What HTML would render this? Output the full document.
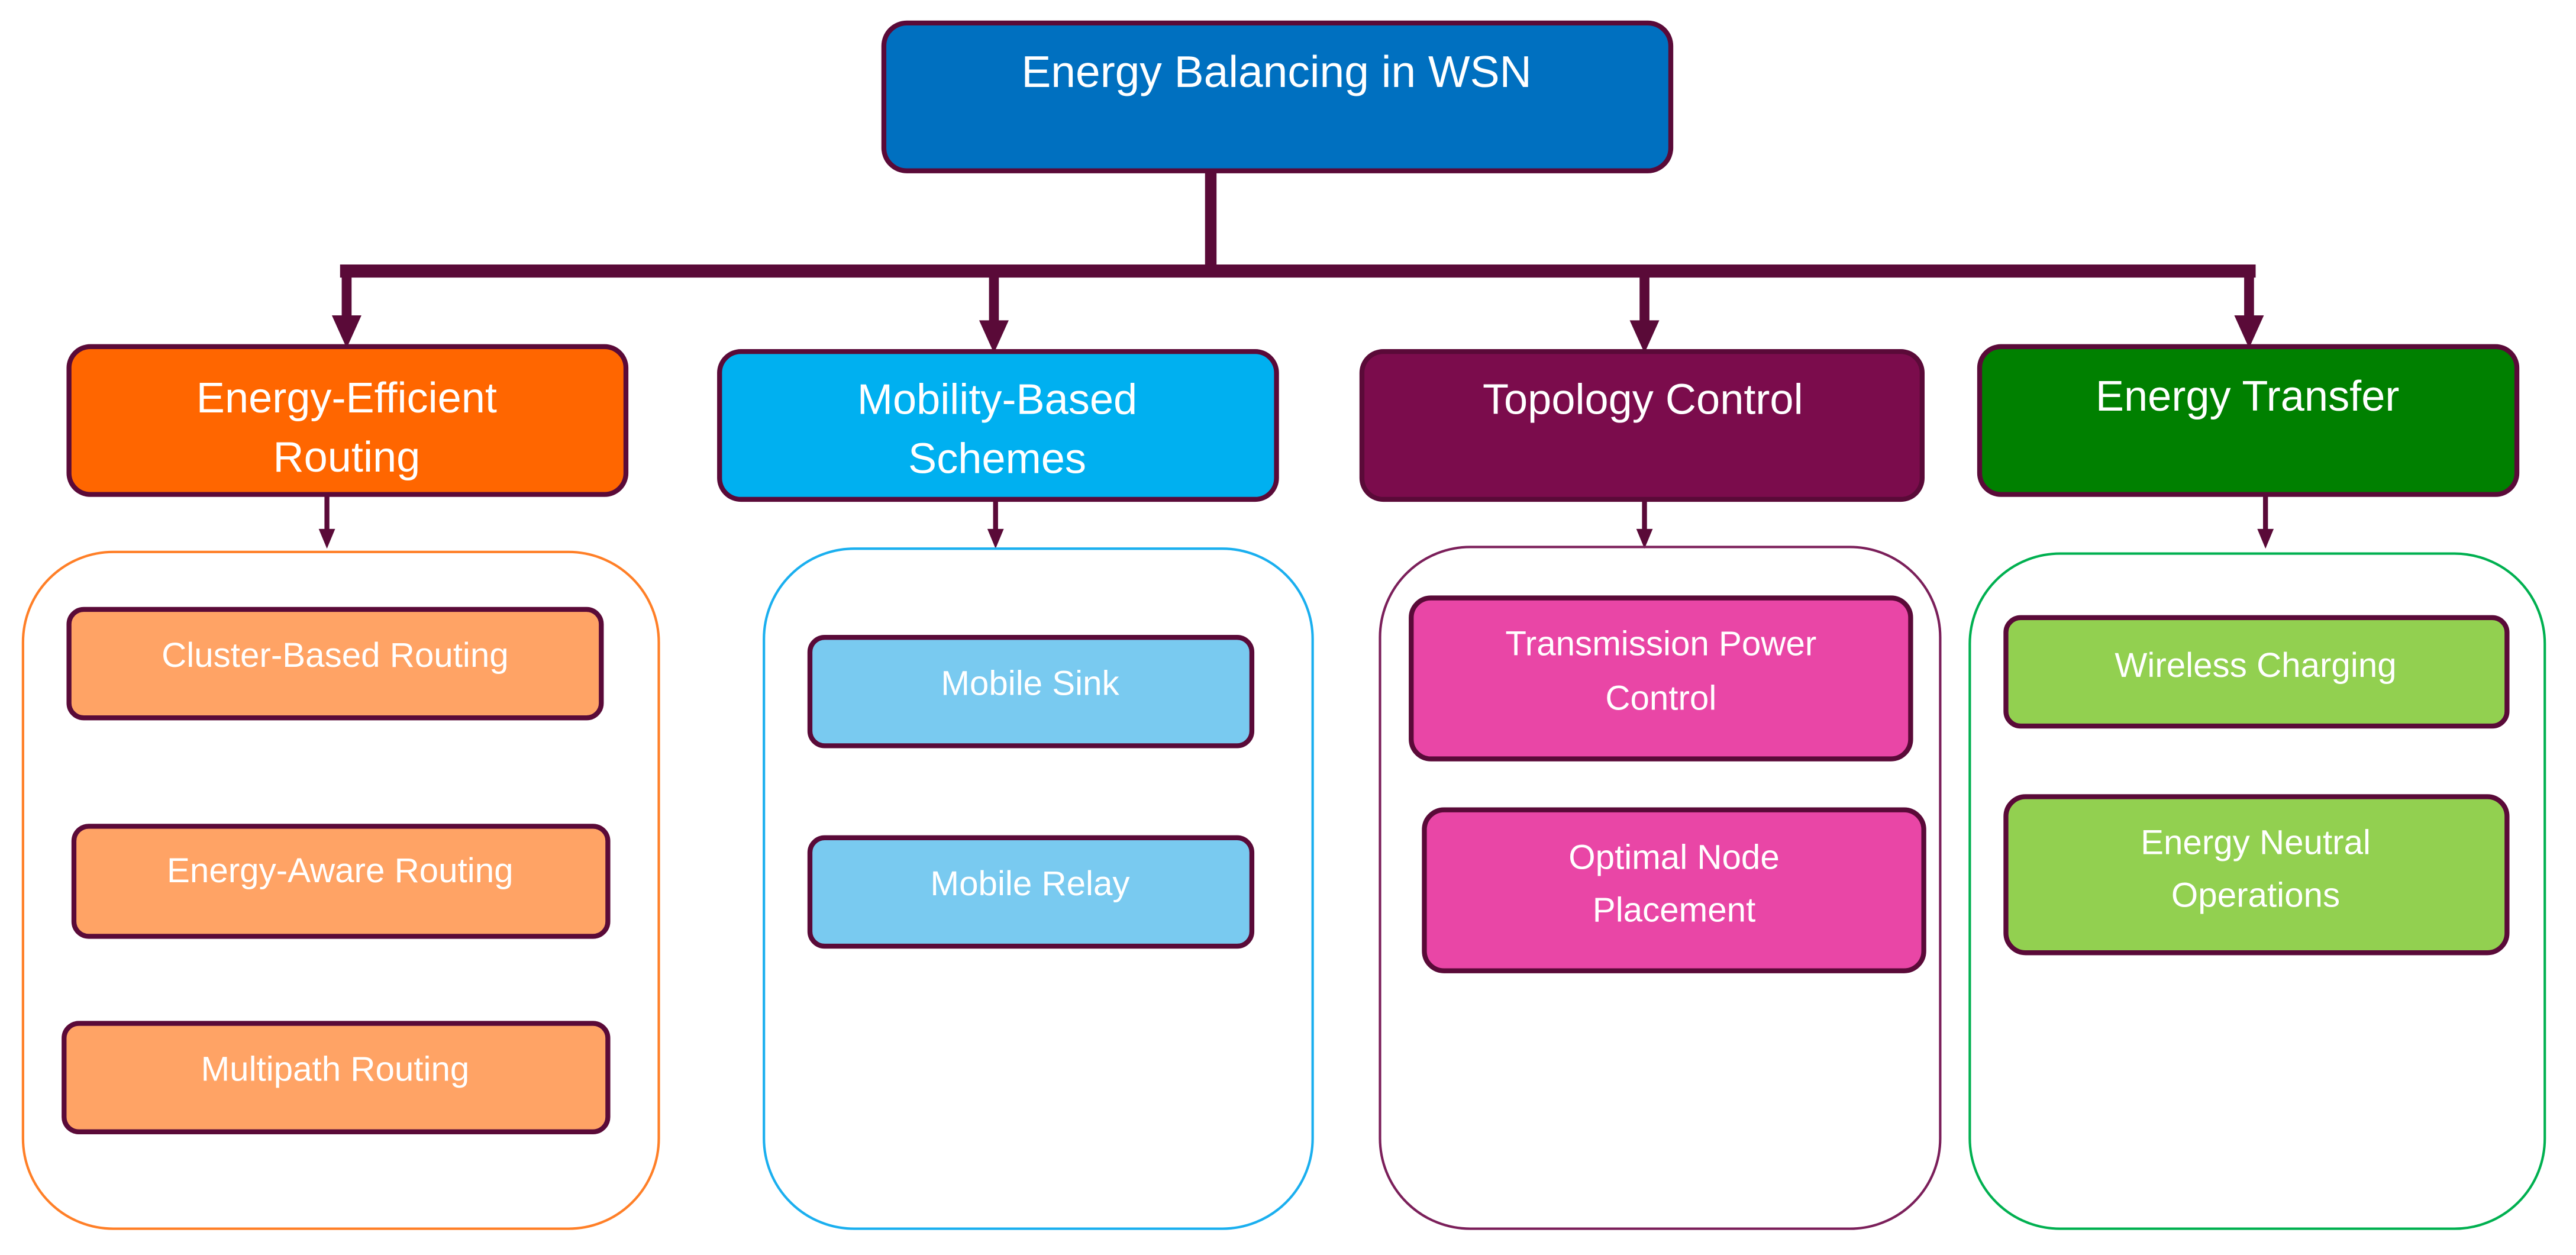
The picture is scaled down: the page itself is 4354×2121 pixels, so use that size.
<!DOCTYPE html>
<html><head><meta charset="utf-8"><style>
html,body{margin:0;padding:0;background:#fff;}
svg{display:block;}
text{font-family:"Liberation Sans",Arial,sans-serif;fill:#fff;text-anchor:middle;}
</style></head><body>
<svg width="4354" height="2121" viewBox="0 0 1568 764" preserveAspectRatio="none" xmlns="http://www.w3.org/2000/svg">
<defs>
<marker id="ab" markerWidth="4" markerHeight="4" refX="2" refY="2" orient="auto" markerUnits="strokeWidth"><path d="M0,0 L4,2 L0,4 z" fill="#5a0a38"/></marker>
</defs>
<!-- top -->
<rect x="538" y="14" width="479" height="90" rx="14" fill="#0070C0" stroke="#5a0a38" stroke-width="3"/>
<text x="777" y="53" font-size="27">Energy Balancing in WSN</text>
<!-- connectors -->
<g stroke="#5a0a38" fill="none">
<line x1="737" y1="104" x2="737" y2="165" stroke-width="7"/>
<line x1="207" y1="165" x2="1373" y2="165" stroke-width="8"/>
<g stroke-width="6">
<line x1="211" y1="165" x2="211" y2="193"/>
<line x1="605" y1="165" x2="605" y2="196"/>
<line x1="1001" y1="165" x2="1001" y2="196"/>
<line x1="1369" y1="165" x2="1369" y2="193"/>
</g>
<g stroke-width="3">
<line x1="199" y1="301" x2="199" y2="324"/>
<line x1="606" y1="304" x2="606" y2="324"/>
<line x1="1001" y1="304" x2="1001" y2="324"/>
<line x1="1379" y1="301" x2="1379" y2="324"/>
</g>
</g>
<g fill="#5a0a38">
<path d="M202,192 L220,192 L211,212 z"/>
<path d="M596,195 L614,195 L605,215 z"/>
<path d="M992,195 L1010,195 L1001,215 z"/>
<path d="M1360,192 L1378,192 L1369,212 z"/>
<path d="M194,322 L204,322 L199,334 z"/>
<path d="M601,322 L611,322 L606,334 z"/>
<path d="M996,322 L1006,322 L1001,334 z"/>
<path d="M1374,322 L1384,322 L1379,334 z"/>
</g>
<!-- level 2 -->
<g stroke="#5a0a38" stroke-width="3">
<rect x="42" y="211" width="339" height="90" rx="13" fill="#FF6600"/>
<rect x="438" y="214" width="339" height="90" rx="13" fill="#00B0F0"/>
<rect x="829" y="214" width="341" height="90" rx="13" fill="#7B0C4C"/>
<rect x="1205" y="211" width="327" height="90" rx="13" fill="#008000"/>
</g>
<g font-size="26">
<text x="211" y="251">Energy-Efficient</text>
<text x="211" y="287">Routing</text>
<text x="607" y="252">Mobility-Based</text>
<text x="607" y="288">Schemes</text>
<text x="1000" y="252">Topology Control</text>
<text x="1368" y="250">Energy Transfer</text>
</g>
<!-- containers -->
<g fill="none" stroke-width="1.5">
<rect x="14" y="336" width="387" height="412" rx="55" stroke="#FF7F27"/>
<rect x="465" y="334" width="334" height="414" rx="55" stroke="#1AAFEF"/>
<rect x="840" y="333" width="341" height="415" rx="55" stroke="#7B1F5A"/>
<rect x="1199" y="337" width="350" height="411" rx="55" stroke="#00B050"/>
</g>
<!-- items -->
<g stroke="#5a0a38" stroke-width="3">
<rect x="42" y="371" width="324" height="66" rx="9" fill="#FFA365"/>
<rect x="45" y="503" width="325" height="67" rx="9" fill="#FFA365"/>
<rect x="39" y="623" width="331" height="66" rx="9" fill="#FFA365"/>
<rect x="493" y="388" width="269" height="66" rx="9" fill="#79CAF0"/>
<rect x="493" y="510" width="269" height="66" rx="9" fill="#79CAF0"/>
<rect x="859" y="364" width="304" height="98" rx="12" fill="#E946A6"/>
<rect x="867" y="493" width="304" height="98" rx="12" fill="#E946A6"/>
<rect x="1221" y="376" width="305" height="66" rx="9" fill="#92D050"/>
<rect x="1221" y="485" width="305" height="95" rx="12" fill="#92D050"/>
</g>
<g font-size="21">
<text x="204" y="406">Cluster-Based Routing</text>
<text x="207" y="537">Energy-Aware Routing</text>
<text x="204" y="658">Multipath Routing</text>
<text x="627" y="423">Mobile Sink</text>
<text x="627" y="545">Mobile Relay</text>
<text x="1011" y="399">Transmission Power</text>
<text x="1011" y="432">Control</text>
<text x="1019" y="529">Optimal Node</text>
<text x="1019" y="561">Placement</text>
<text x="1373" y="412">Wireless Charging</text>
<text x="1373" y="520">Energy Neutral</text>
<text x="1373" y="552">Operations</text>
</g>
</svg>
</body></html>
